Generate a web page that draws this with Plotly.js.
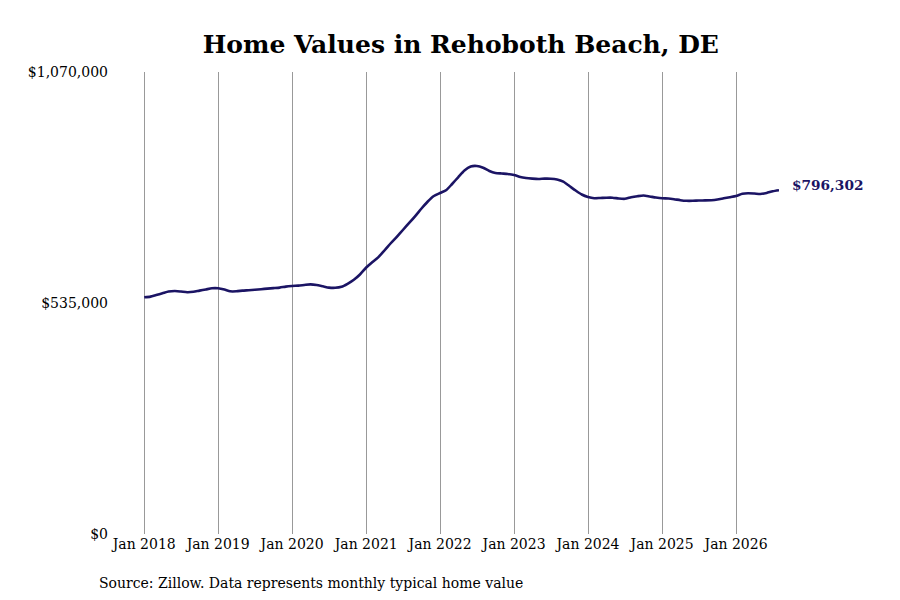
<!DOCTYPE html>
<html>
<head>
<meta charset="utf-8">
<script src="https://cdn.plot.ly/plotly-3.0.1.min.js"></script>
<style>
  html, body { margin: 0; padding: 0; background: #fff; }
  #chart { width: 900px; height: 600px; }
</style>
</head>
<body>
<div id="chart"></div>
<script>
// monthly typical home value, Jan 2018 .. Aug 2026
const startYear = 2018;
const homeValues = [
  548200, 549800, 553500, 557500, 561600, 562800, 561600, 560000, 560900, 563700, 566300, 569000,
  569000, 566000, 562100, 562100, 563700, 564600, 565800, 567000, 568300, 569500, 570700, 573000,
  574400, 575300, 576700, 578100, 576700, 573700, 570700, 570200, 572500, 579500, 588700, 601000,
  617200, 630000, 640800, 656600, 672800, 688300, 704100, 720300, 736900, 753900, 770100, 782800,
  789800, 796700, 810600, 826800, 841900, 851100, 852300, 848400, 840700, 836100, 834900, 833800,
  831400, 826800, 824500, 823100, 822200, 823100, 822900, 821000, 815900, 806000, 795500, 786300,
  780500, 777700, 778200, 778900, 778900, 777000, 776300, 779800, 782300, 784000, 781700, 779300,
  777500, 777000, 775400, 773100, 771700, 771700, 772400, 772600, 773100, 774700, 777500, 780000,
  782800, 787900, 789300, 788600, 787400, 789800, 793900, 796302
];
const yTickVals = [0, 535000, 1070000];
const yTickText = ["$0", "$535,000", "$1,070,000"];

// build month dates from the start year
const months = homeValues.map((v, i) => {
  const y = startYear + Math.floor(i / 12);
  const m = (i % 12) + 1;
  return y + "-" + String(m).padStart(2, "0") + "-01";
});

const lineColor = "#1b1464";
const serif = "DejaVu Serif, serif";

const trace = {
  type: "scatter",
  mode: "lines",
  x: months,
  y: homeValues,
  line: { color: lineColor, width: 2.6, shape: "spline", smoothing: 0.6 },
  hoverinfo: "none"
};

const lastIdx = homeValues.length - 1;

const layout = {
  width: 900,
  height: 600,
  margin: { l: 142, r: 121, t: 72, b: 66 },
  paper_bgcolor: "#fff",
  plot_bgcolor: "#fff",
  showlegend: false,
  font: { family: serif, color: "#000", size: 14 },
  title: {
    text: "<b>Home Values in Rehoboth Beach, DE</b>",
    font: { family: serif, size: 25, color: "#000" },
    x: 0.512,
    xanchor: "center",
    y: 0.927,
    yanchor: "middle"
  },
  xaxis: {
    type: "date",
    // start a few days early so the Jan 2018 gridline is drawn
    range: ["2017-12-21", months[lastIdx]],
    tick0: months[0],
    dtick: "M12",
    tickformat: "%b %Y",
    showgrid: true,
    gridcolor: "#999",
    gridwidth: 1,
    zeroline: false,
    showline: false,
    ticks: "",
    tickfont: { family: serif, size: 14, color: "#000" }
  },
  yaxis: {
    range: [0, 1070000],
    tickvals: yTickVals,
    ticktext: yTickText,
    showgrid: false,
    zeroline: false,
    showline: false,
    ticks: "",
    ticklabelstandoff: 33,
    tickfont: { family: serif, size: 14, color: "#000" }
  },
  annotations: [
    {
      x: months[lastIdx],
      y: homeValues[lastIdx],
      xref: "x",
      yref: "y",
      text: "<b>$" + homeValues[lastIdx].toLocaleString("en-US") + "</b>",
      showarrow: false,
      xanchor: "left",
      yanchor: "middle",
      xshift: 11,
      yshift: 5,
      font: { family: serif, size: 13.7, color: lineColor }
    },
    {
      x: -0.070,
      y: -0.105,
      xref: "paper",
      yref: "paper",
      text: "Source: Zillow. Data represents monthly typical home value",
      showarrow: false,
      xanchor: "left",
      yanchor: "middle",
      font: { family: serif, size: 14, color: "#000" }
    }
  ]
};

Plotly.newPlot("chart", [trace], layout, { displayModeBar: false, staticPlot: true });
</script>
</body>
</html>
